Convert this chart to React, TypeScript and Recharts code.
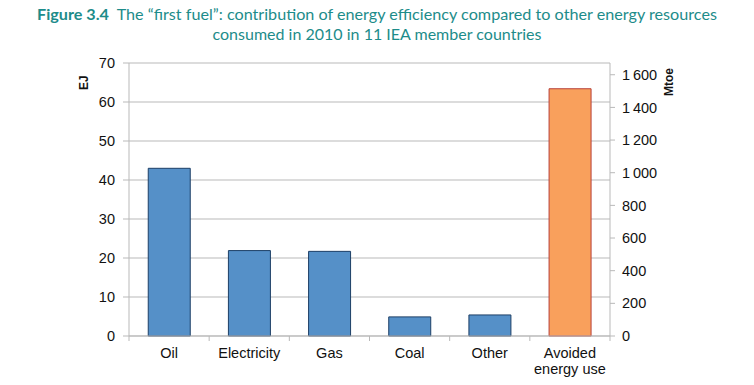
import { ComposedChart, Bar, Line, XAxis, YAxis, CartesianGrid, Cell } from "recharts";

const categories = ["Oil", "Electricity", "Gas", "Coal", "Other", "Avoided energy use"];
const valuesEJ = [43.0, 21.9, 21.7, 4.9, 5.4, 63.4];
const ejTicks = [0, 10, 20, 30, 40, 50, 60, 70];
const mtoeTicks = [0, 200, 400, 600, 800, 1000, 1200, 1400, 1600];
// 1 Mtoe = 0.041868 EJ
const EJ_PER_MTOE = 0.041868;
const mtoeMax = 70 / EJ_PER_MTOE;

const BLUE = "#5590c8";
const BLUE_EDGE = "#1d3f66";
const ORANGE = "#f9a05c";
const ORANGE_EDGE = "#b8403a";
const TEAL = "#1d8c8a";
const GRID = "#b9b9b9";
const FONT = "Liberation Sans, Arial";

const PLOT_LEFT = 129;
const PLOT_RIGHT = 610;
const HALF_BAND = (PLOT_RIGHT - PLOT_LEFT) / categories.length / 2;

const data = categories.map((name, i) => ({ name, ej: valuesEJ[i], mtoe: valuesEJ[i] / EJ_PER_MTOE }));

function fmtMtoe(v: number) {
  if (v < 1000) return String(v);
  return `${Math.floor(v / 1000)}\u2009${String(v % 1000).padStart(3, "0")}`;
}

function XTick(props: any) {
  const { x, y, payload, index } = props;
  const words: string[] = payload.value === "Avoided energy use" ? ["Avoided", "energy use"] : [payload.value];
  return (
    <g>
      <line x1={x - HALF_BAND} x2={x - HALF_BAND} y1={y - 8} y2={y - 3} stroke={GRID} />
      {index === categories.length - 1 && (
        <line x1={x + HALF_BAND} x2={x + HALF_BAND} y1={y - 8} y2={y - 3} stroke={GRID} />
      )}
      <text x={x} y={y + 14} textAnchor="middle" fill="#111" fontSize={14.5} fontFamily={FONT}>
        {words.map((w, i) => (
          <tspan key={w} x={x} dy={i === 0 ? 0 : 16}>
            {w}
          </tspan>
        ))}
      </text>
    </g>
  );
}

export default function App() {
  return (
    <div style={{ position: "fixed", left: 0, top: 0, width: 754, height: 385, background: "#fff" }}>
      <svg width={754} height={48} style={{ position: "absolute", left: 0, top: 0 }}>
        <text x={377} y={20} textAnchor="middle" fill={TEAL} fontSize={16} fontFamily="Lato, Open Sans" textLength={680} lengthAdjust="spacingAndGlyphs">
          <tspan fontWeight="bold">Figure 3.4</tspan>
          <tspan>{"\u00a0 The \u201cfirst fuel\u201d: contribution of energy efficiency compared to other energy resources"}</tspan>
        </text>
        <text x={377} y={40} textAnchor="middle" fill={TEAL} fontSize={16} fontFamily="Lato, Open Sans" textLength={329} lengthAdjust="spacingAndGlyphs">
          consumed in 2010 in 11 IEA member countries
        </text>
      </svg>
      <div style={{ position: "absolute", left: 0, top: 0 }}>
        <ComposedChart width={754} height={385} data={data} margin={{ top: 63, right: 0, bottom: 0, left: 0 }} barCategoryGap="24%">
          <CartesianGrid vertical={false} stroke={GRID} yAxisId="ej" />
          <XAxis
            dataKey="name"
            height={49}
            interval={0}
            tickLine={false}
            axisLine={{ stroke: GRID }}
            tick={<XTick />}
          />
          <YAxis
            yAxisId="ej"
            width={129}
            domain={[0, 70]}
            ticks={ejTicks}
            tickSize={6}
            tickMargin={8}
            axisLine={{ stroke: GRID }}
            tickLine={{ stroke: GRID }}
            tick={{ fill: "#111", fontSize: 14.5, fontFamily: FONT }}
            label={{ value: "EJ", angle: -90, position: "insideTopLeft", dx: 74, dy: 22, fontWeight: "bold", fontSize: 12, fill: "#111", fontFamily: FONT }}
          />
          <YAxis
            yAxisId="mtoe"
            orientation="right"
            width={144}
            domain={[0, mtoeMax]}
            allowDataOverflow
            ticks={mtoeTicks}
            tickFormatter={fmtMtoe}
            tickSize={5}
            tickMargin={7}
            axisLine={{ stroke: GRID }}
            tickLine={{ stroke: GRID }}
            tick={{ fill: "#111", fontSize: 14.5, fontFamily: FONT, textAnchor: "start" }}
            label={{ value: "Mtoe", angle: -90, position: "insideTopLeft", dx: 49, dy: 28, fontWeight: "bold", fontSize: 12, fill: "#111", fontFamily: FONT }}
          />
          <Bar dataKey="ej" yAxisId="ej" isAnimationActive={false} strokeWidth={1}>
            {data.map((d, i) => (
              <Cell
                key={d.name}
                fill={i === data.length - 1 ? ORANGE : BLUE}
                stroke={i === data.length - 1 ? ORANGE_EDGE : BLUE_EDGE}
              />
            ))}
          </Bar>
          {/* same values in Mtoe, invisible: only keeps the right axis alive */}
          <Line dataKey="mtoe" yAxisId="mtoe" stroke="none" dot={false} activeDot={false} legendType="none" isAnimationActive={false} />
        </ComposedChart>
      </div>
    </div>
  );
}
